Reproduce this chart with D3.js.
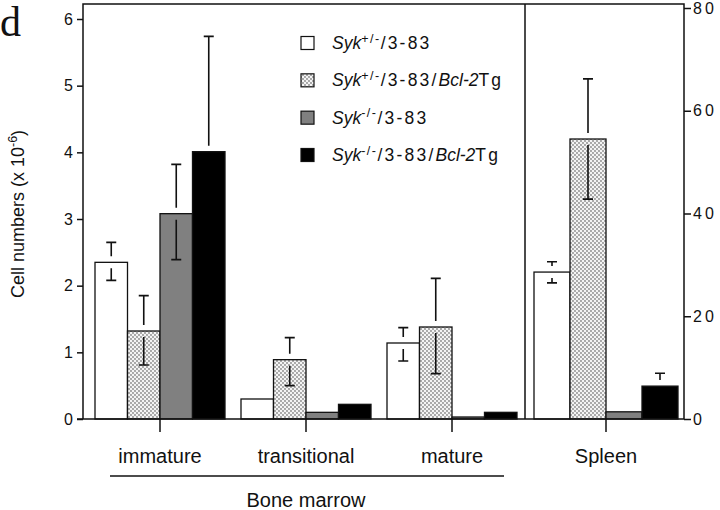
<!DOCTYPE html>
<html><head><meta charset="utf-8">
<script src="https://cdn.jsdelivr.net/npm/d3@7"></script>
<style>
body{margin:0;background:#fff;}
text{font-family:"Liberation Sans",Arial,Helvetica,sans-serif;fill:#111;}
</style></head>
<body><svg id="chart" width="720" height="510"></svg>
<script>
// ---- data ----
const bmCategories = ["immature", "transitional", "mature"];
const spleenCategories = ["Spleen"];
const seriesKeys = ["s1", "s2", "s3", "s4"];
// bone marrow values (left axis, x 10^-6)
const bmValues = {
  s1: [2.35, 0.30, 1.14],
  s2: [1.32, 0.89, 1.38],
  s3: [3.08, 0.10, 0.03],
  s4: [4.01, 0.22, 0.10]
};
const bmErrUp = {
  s1: [0.30, null, 0.23],
  s2: [0.53, 0.33, 0.73],
  s3: [0.74, null, null],
  s4: [1.73, null, null]
};
const bmErrDown = {
  s1: [0.27, null, 0.27],
  s2: [0.51, 0.39, 0.70],
  s3: [0.69, null, null],
  s4: [null, null, null]
};
// spleen values (right axis)
const spleenValues = { s1: [28.6], s2: [54.5], s3: [1.4], s4: [6.4] };
const spleenErrUp = { s1: [2.0], s2: [11.7], s3: [null], s4: [2.5] };
const spleenErrDown = { s1: [2.1], s2: [11.7], s3: [null], s4: [null] };
const leftTicks = [0, 1, 2, 3, 4, 5, 6];
const rightTicks = [0, 20, 40, 60, 80];
const legendLabels = [
  [["Syk", "i"], ["+/-", "sup"], ["/3-83", "n"]],
  [["Syk", "i"], ["+/-", "sup"], ["/3-83/", "n"], ["Bcl-2", "i"], ["Tg", "n"]],
  [["Syk", "i"], ["-/-", "sup"], ["/3-83", "n"]],
  [["Syk", "i"], ["-/-", "sup"], ["/3-83/", "n"], ["Bcl-2", "i"], ["Tg", "n"]]
];
const groupLabel = "Bone marrow";
const yLabel = "Cell numbers (x 10";
const yLabelSup = "-6";
const panelLetter = "d";

// ---- drawing ----
const svg = d3.select("#chart");
const defs = svg.append("defs");
const pat = defs.append("pattern").attr("id", "dots").attr("patternUnits", "userSpaceOnUse")
  .attr("width", 4).attr("height", 4);
pat.append("rect").attr("width", 4).attr("height", 4).attr("fill", "#f4f4f4");
pat.append("circle").attr("cx", 1).attr("cy", 1).attr("r", 0.65).attr("fill", "#222");
pat.append("circle").attr("cx", 3).attr("cy", 3).attr("r", 0.65).attr("fill", "#222");

const fills = { s1: "#fff", s2: "url(#dots)", s3: "#808080", s4: "#000" };

const fLeft = 83, fRight = 684, fTop = 4, base = 419, divider = 525;
const yL = d3.scaleLinear().domain([0, 6]).range([base, 19]);
const yR = d3.scaleLinear().domain([0, 80]).range([base, 8]);
const xBM = d3.scaleBand().domain(bmCategories).range([87, divider]);
const xSp = d3.scaleBand().domain(spleenCategories).range([divider, 687]);
const innerBM = d3.scaleBand().domain(seriesKeys).range([0, 130]);
const innerSp = d3.scaleBand().domain(seriesKeys).range([0, 144]);

function drawGroups(cats, xs, inner, vals, eUp, eDn, y, gw) {
  cats.forEach((c, ci) => {
    const x0 = xs(c) + xs.bandwidth() / 2 - gw / 2;
    seriesKeys.forEach(k => {
      const v = vals[k][ci];
      const bx = x0 + inner(k), bw = inner.bandwidth();
      svg.append("rect").attr("x", bx).attr("y", y(v)).attr("width", bw)
        .attr("height", y(0) - y(v)).attr("fill", fills[k])
        .attr("stroke", "#111").attr("stroke-width", 1.3);
      const cx = bx + bw / 2, gap = 6, cap = 5;
      const up = eUp[k][ci], dn = eDn[k][ci];
      if (up != null) {
        svg.append("path").attr("d",
          `M${cx},${y(v) - gap}V${y(v + up)}M${cx - cap},${y(v + up)}H${cx + cap}`)
          .attr("stroke", "#111").attr("stroke-width", 1.6).attr("fill", "none");
      }
      if (dn != null) {
        svg.append("path").attr("d",
          `M${cx},${y(v) + gap}V${y(v - dn)}M${cx - cap},${y(v - dn)}H${cx + cap}`)
          .attr("stroke", "#111").attr("stroke-width", 1.6).attr("fill", "none");
      }
    });
  });
}
drawGroups(bmCategories, xBM, innerBM, bmValues, bmErrUp, bmErrDown, yL, 130);
drawGroups(spleenCategories, xSp, innerSp, spleenValues, spleenErrUp, spleenErrDown, yR, 144);

// frame
svg.append("path").attr("d", `M${fLeft},${base}V${fTop}H${fRight}V${base}M${divider},${fTop}V${base}M77,${base}H${fRight}`)
  .attr("stroke", "#111").attr("stroke-width", 1.5).attr("fill", "none");

// left axis
const gL = svg.append("g").attr("transform", `translate(${fLeft},0)`)
  .call(d3.axisLeft(yL).tickValues(leftTicks).tickSize(6).tickPadding(4).tickFormat(d3.format("d")));
gL.select(".domain").remove();
gL.selectAll("line").attr("stroke", "#111").attr("stroke-width", 1.5);
gL.selectAll("text").attr("font-size", 16).attr("fill", "#111");

// right axis
const gR = svg.append("g").attr("transform", `translate(${fRight},0)`)
  .call(d3.axisRight(yR).tickValues(rightTicks).tickSize(7).tickPadding(2).tickFormat(d3.format("d")));
gR.select(".domain").remove();
gR.selectAll("line").attr("stroke", "#111").attr("stroke-width", 1.5);
gR.selectAll("text").attr("font-size", 16).attr("letter-spacing", "3px").attr("fill", "#111");

// category axes
function catAxis(scale) {
  const g = svg.append("g").attr("transform", `translate(0,${base})`)
    .call(d3.axisBottom(scale).tickSize(13).tickPadding(17));
  g.select(".domain").remove();
  g.selectAll("line").attr("stroke", "#111").attr("stroke-width", 1.5);
  g.selectAll("text").attr("font-size", 20).attr("fill", "#111");
}
catAxis(xBM);
catAxis(xSp);

// bone marrow bracket
svg.append("line").attr("x1", 110).attr("x2", 504).attr("y1", 476).attr("y2", 476)
  .attr("stroke", "#111").attr("stroke-width", 1.5);
svg.append("text").attr("x", xBM("transitional") + xBM.bandwidth() / 2).attr("y", 507)
  .attr("text-anchor", "middle").attr("font-size", 20).text(groupLabel);

// y label
const yl = svg.append("text").attr("transform", "translate(24,214) rotate(-90)")
  .attr("text-anchor", "middle").attr("font-size", 18);
yl.append("tspan").text(yLabel);
yl.append("tspan").attr("font-size", 12.5).attr("dy", -7).text(yLabelSup);
yl.append("tspan").attr("dy", 7).text(")");

// panel letter
svg.append("text").attr("x", 0).attr("y", 36).style("font-family", "'Liberation Serif', 'DejaVu Serif', serif")
  .attr("font-size", 42).text(panelLetter);

// legend
const legY = d3.scalePoint().domain(seriesKeys).range([43, 155]);
seriesKeys.forEach((k, i) => {
  const cy = legY(k);
  svg.append("rect").attr("x", 301).attr("y", cy - 6.5).attr("width", 13).attr("height", 13)
    .attr("fill", fills[k]).attr("stroke", "#111").attr("stroke-width", 1.2);
  const t = svg.append("text").attr("x", 332).attr("y", cy + 6).attr("font-size", 17.5);
  let raised = false;
  legendLabels[i].forEach(([s, st]) => {
    const ts = t.append("tspan").text(s);
    if (st === "i") ts.attr("font-style", "italic");
    if (st === "sup") { ts.attr("font-size", 12.5).attr("dy", -6.5).attr("letter-spacing", "1.5px"); raised = true; }
    else if (raised) { ts.attr("dy", 6.5); raised = false; }
    if (st === "n") ts.attr("letter-spacing", "2.2px");
  });
});
</script></body></html>
